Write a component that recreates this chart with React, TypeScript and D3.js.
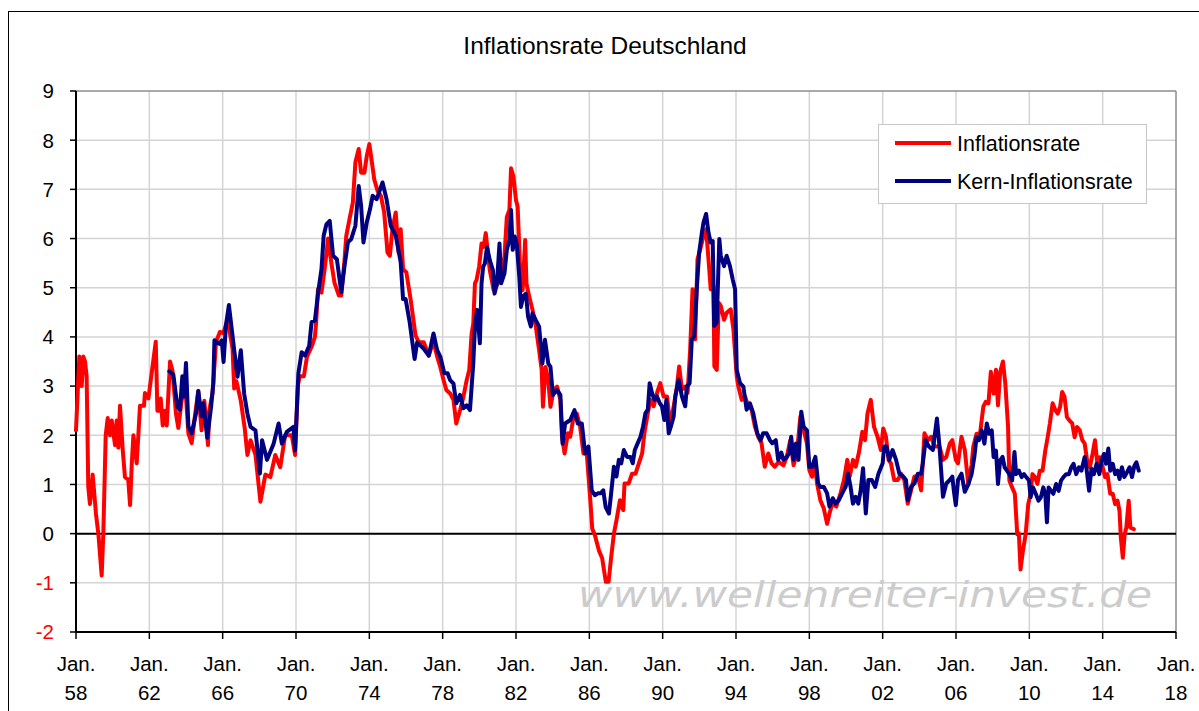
import React from 'react';
import * as d3 from 'd3';

const title = 'Inflationsrate Deutschland';
const seriesNames = ['Inflationsrate', 'Kern-Inflationsrate'];
const seriesColors = ['#ff0000', '#000080'];
const yTicks = [-2, -1, 0, 1, 2, 3, 4, 5, 6, 7, 8, 9];
const xTickYears = [1958, 1962, 1966, 1970, 1974, 1978, 1982, 1986, 1990, 1994, 1998, 2002, 2006, 2010, 2014, 2018];
const watermark = 'www.wellenreiter-invest.de';

const inflation: [number, number][] = [
  [1958.0, 2.1], [1958.18, 3.6], [1958.31, 3.0], [1958.4, 3.6], [1958.49, 3.5], [1958.58, 3.2], [1958.67, 0.95], [1958.76, 0.6],
  [1958.91, 1.2], [1959.09, 0.4], [1959.22, 0.0], [1959.4, -0.85], [1959.49, 0.0], [1959.62, 2.0], [1959.73, 2.35], [1959.85, 2.0],
  [1959.95, 2.3], [1960.13, 1.8], [1960.22, 2.3], [1960.31, 1.75], [1960.4, 2.6], [1960.55, 1.7], [1960.67, 1.15], [1960.85, 1.1],
  [1960.95, 0.58], [1961.04, 1.4], [1961.13, 2.0], [1961.31, 1.43], [1961.4, 2.0], [1961.49, 2.6], [1961.71, 2.6], [1961.76, 2.86],
  [1961.95, 2.75], [1962.07, 3.1], [1962.35, 3.9], [1962.44, 2.5], [1962.55, 2.5], [1962.62, 2.75], [1962.73, 2.2], [1962.85, 2.5],
  [1962.95, 2.2], [1963.04, 2.85], [1963.13, 3.5], [1963.27, 3.3], [1963.45, 2.45], [1963.58, 2.15], [1963.76, 2.7], [1963.95, 3.06],
  [1964.13, 2.04], [1964.31, 1.84], [1964.49, 2.4], [1964.67, 2.9], [1964.85, 2.1], [1965.0, 2.7], [1965.2, 1.8], [1965.27, 2.5],
  [1965.45, 2.86], [1965.58, 3.57], [1965.64, 3.9], [1965.85, 4.1], [1966.04, 4.08], [1966.27, 4.35], [1966.49, 3.87], [1966.54, 3.75],
  [1966.63, 2.95], [1966.75, 3.1], [1966.99, 2.7], [1967.2, 2.15], [1967.35, 1.6], [1967.52, 1.9], [1967.79, 1.6], [1968.06, 0.65],
  [1968.33, 1.2], [1968.6, 1.15], [1968.87, 1.6], [1969.14, 1.35], [1969.41, 2.0], [1969.77, 2.0], [1969.95, 1.6], [1970.1, 3.0],
  [1970.2, 3.2], [1970.43, 3.2], [1970.6, 3.6], [1970.85, 3.8], [1971.03, 4.0], [1971.1, 4.3], [1971.2, 4.97], [1971.39, 4.9],
  [1971.57, 5.4], [1971.75, 6.0], [1971.93, 5.5], [1972.1, 5.1], [1972.34, 4.84], [1972.47, 4.84], [1972.65, 5.58], [1972.74, 6.05],
  [1972.92, 6.4], [1973.1, 6.73], [1973.24, 7.55], [1973.42, 7.82], [1973.55, 7.34], [1973.73, 7.34], [1973.86, 7.68], [1974.0, 7.92],
  [1974.14, 7.55], [1974.27, 7.2], [1974.45, 6.97], [1974.63, 6.87], [1974.81, 6.53], [1974.99, 5.72], [1975.12, 5.65], [1975.26, 6.19],
  [1975.44, 6.53], [1975.59, 5.72], [1975.71, 6.19], [1975.84, 5.38], [1976.02, 5.31], [1976.25, 4.77], [1976.52, 4.03], [1976.7, 3.89],
  [1976.97, 3.89], [1977.24, 3.62], [1977.34, 3.73], [1977.5, 3.9], [1977.7, 3.6], [1977.87, 3.39], [1978.05, 3.12], [1978.2, 2.92],
  [1978.41, 2.85], [1978.59, 2.72], [1978.74, 2.24], [1978.95, 2.51], [1979.13, 2.78], [1979.31, 3.12], [1979.45, 3.33], [1979.58, 4.07],
  [1979.67, 4.27], [1979.76, 5.09], [1979.85, 5.16], [1979.99, 5.43], [1980.12, 5.9], [1980.24, 5.83], [1980.35, 6.11], [1980.57, 5.36],
  [1980.78, 4.95], [1980.92, 5.02], [1981.14, 5.22], [1981.37, 5.63], [1981.5, 6.44], [1981.64, 6.58], [1981.73, 7.43], [1981.86, 7.26],
  [1982.0, 6.78], [1982.09, 6.65], [1982.22, 5.43], [1982.36, 4.95], [1982.5, 5.97], [1982.57, 5.09], [1982.72, 4.82], [1982.9, 4.55],
  [1983.08, 4.21], [1983.26, 3.73], [1983.4, 3.33], [1983.47, 2.58], [1983.61, 3.39], [1983.76, 3.12], [1983.88, 2.58], [1984.06, 2.92],
  [1984.24, 2.99], [1984.42, 2.72], [1984.51, 1.97], [1984.65, 1.63], [1984.83, 2.04], [1984.96, 1.97], [1985.14, 2.38], [1985.32, 2.44],
  [1985.5, 2.17], [1985.68, 1.63], [1985.86, 1.63], [1986.04, 0.75], [1986.16, 0.1], [1986.3, -0.03], [1986.52, -0.34], [1986.7, -0.5],
  [1986.9, -0.98], [1987.05, -0.98], [1987.19, -0.48], [1987.34, 0.0], [1987.48, 0.27], [1987.67, 0.68], [1987.85, 0.48], [1987.92, 1.02],
  [1988.15, 1.02], [1988.33, 1.22], [1988.52, 1.22], [1988.7, 1.43], [1988.88, 1.63], [1989.0, 2.04], [1989.19, 2.45], [1989.33, 2.72],
  [1989.51, 2.59], [1989.69, 2.86], [1989.87, 3.06], [1990.05, 2.79], [1990.24, 2.79], [1990.42, 2.18], [1990.6, 2.59], [1990.78, 2.99],
  [1990.9, 3.4], [1991.05, 2.93], [1991.23, 2.99], [1991.36, 2.86], [1991.5, 3.74], [1991.63, 4.97], [1991.77, 3.95], [1991.9, 5.58],
  [1992.05, 5.78], [1992.23, 6.05], [1992.37, 6.19], [1992.5, 5.58], [1992.62, 4.97], [1992.77, 5.03], [1992.82, 3.4], [1992.95, 3.33],
  [1993.06, 4.69], [1993.17, 4.63], [1993.35, 4.35], [1993.49, 4.49], [1993.71, 4.56], [1993.86, 4.15], [1994.04, 3.2], [1994.13, 2.99],
  [1994.31, 2.72], [1994.49, 2.79], [1994.67, 2.59], [1994.85, 2.52], [1995.03, 2.18], [1995.21, 1.97], [1995.39, 1.84], [1995.57, 1.36],
  [1995.76, 1.63], [1995.94, 1.43], [1996.12, 1.36], [1996.32, 1.46], [1996.59, 1.39], [1996.77, 1.56], [1996.96, 1.9], [1997.14, 1.39],
  [1997.32, 1.63], [1997.51, 2.38], [1997.69, 2.1], [1997.87, 1.83], [1998.0, 1.29], [1998.15, 1.16], [1998.29, 1.5], [1998.42, 1.02],
  [1998.6, 0.68], [1998.79, 0.51], [1998.97, 0.2], [1999.1, 0.41], [1999.25, 0.61], [1999.47, 0.55], [1999.7, 0.82], [1999.89, 1.09],
  [2000.07, 1.5], [2000.2, 1.16], [2000.38, 1.5], [2000.53, 1.36], [2000.71, 1.66], [2000.89, 2.07], [2001.04, 1.9], [2001.17, 2.44],
  [2001.35, 2.72], [2001.53, 2.17], [2001.72, 1.97], [2001.9, 1.7], [2002.03, 2.14], [2002.18, 1.97], [2002.32, 1.5], [2002.45, 1.43],
  [2002.63, 1.09], [2002.82, 1.09], [2003.0, 1.22], [2003.18, 1.09], [2003.37, 0.61], [2003.55, 0.88], [2003.73, 1.16], [2003.92, 1.16],
  [2004.1, 0.88], [2004.28, 2.04], [2004.47, 1.9], [2004.65, 1.97], [2004.83, 1.77], [2005.1, 1.77], [2005.29, 1.5], [2005.47, 1.56],
  [2005.66, 1.83], [2005.8, 1.9], [2005.99, 1.5], [2006.11, 1.43], [2006.3, 1.97], [2006.48, 1.7], [2006.67, 1.0], [2006.85, 1.4],
  [2006.94, 1.76], [2007.12, 2.03], [2007.31, 2.03], [2007.49, 2.58], [2007.62, 2.68], [2007.77, 2.65], [2007.9, 3.29], [2008.05, 2.85],
  [2008.18, 3.33], [2008.29, 2.61], [2008.41, 3.29], [2008.56, 3.5], [2008.69, 3.05], [2008.84, 2.17], [2008.91, 1.08], [2009.06, 0.94],
  [2009.21, 0.81], [2009.34, -0.01], [2009.43, 0.0], [2009.52, -0.73], [2009.65, -0.35], [2009.8, -0.01], [2009.94, 0.6], [2010.07, 0.81],
  [2010.17, 1.21], [2010.31, 1.15], [2010.44, 1.01], [2010.57, 1.28], [2010.72, 1.28], [2010.87, 1.69], [2011.0, 1.96], [2011.12, 2.24],
  [2011.27, 2.65], [2011.42, 2.51], [2011.55, 2.44], [2011.68, 2.58], [2011.79, 2.88], [2011.92, 2.78], [2012.05, 2.37], [2012.19, 2.3],
  [2012.34, 2.24], [2012.47, 1.96], [2012.6, 2.17], [2012.75, 2.1], [2012.89, 1.9], [2013.02, 1.83], [2013.15, 1.49], [2013.3, 1.35],
  [2013.45, 1.62], [2013.58, 1.9], [2013.71, 1.42], [2013.85, 1.55], [2014.0, 1.35], [2014.13, 1.15], [2014.26, 1.21], [2014.41, 0.81],
  [2014.55, 0.81], [2014.68, 0.6], [2014.81, 0.67], [2014.92, 0.46], [2014.99, -0.08], [2015.1, -0.49], [2015.2, -0.01], [2015.29, 0.12],
  [2015.42, 0.67], [2015.51, 0.12], [2015.7, 0.09],
];

const coreInflation: [number, number][] = [
  [1963.09, 3.3], [1963.31, 3.23], [1963.53, 2.58], [1963.67, 2.52], [1963.8, 3.2], [1963.89, 2.79], [1964.0, 3.47], [1964.13, 2.18],
  [1964.31, 2.04], [1964.55, 2.45], [1964.67, 2.9], [1964.85, 2.38], [1964.95, 2.65], [1965.16, 1.95], [1965.37, 2.58], [1965.49, 3.06],
  [1965.55, 3.93], [1965.82, 3.86], [1965.95, 3.93], [1966.05, 3.49], [1966.18, 4.24], [1966.34, 4.65], [1966.63, 3.73], [1966.81, 3.19],
  [1966.99, 3.73], [1967.17, 2.85], [1967.35, 2.44], [1967.52, 2.17], [1967.79, 2.1], [1968.03, 1.22], [1968.15, 1.9], [1968.42, 1.5],
  [1968.78, 1.83], [1969.05, 2.24], [1969.23, 1.83], [1969.5, 2.07], [1969.86, 2.17], [1969.95, 1.69], [1970.13, 3.26], [1970.31, 3.69],
  [1970.49, 3.62], [1970.72, 3.82], [1970.85, 4.3], [1971.03, 4.33], [1971.21, 4.91], [1971.39, 5.38], [1971.51, 6.06], [1971.66, 6.29],
  [1971.84, 6.36], [1972.02, 5.65], [1972.23, 5.58], [1972.47, 4.91], [1972.65, 5.45], [1972.83, 5.92], [1973.01, 5.99], [1973.24, 6.26],
  [1973.42, 7.07], [1973.55, 6.67], [1973.68, 5.92], [1973.86, 6.33], [1974.04, 6.6], [1974.18, 6.87], [1974.4, 6.8], [1974.72, 7.14],
  [1974.94, 6.8], [1975.17, 6.26], [1975.44, 6.06], [1975.71, 5.52], [1975.84, 4.77], [1975.98, 4.77], [1976.2, 4.3], [1976.47, 3.55],
  [1976.61, 3.89], [1976.97, 3.76], [1977.24, 3.62], [1977.5, 4.07], [1977.7, 3.73], [1977.87, 3.6], [1978.09, 3.26], [1978.27, 3.26],
  [1978.41, 3.12], [1978.59, 3.05], [1978.74, 2.65], [1978.95, 2.82], [1979.13, 2.55], [1979.31, 2.61], [1979.49, 2.51], [1979.67, 3.46],
  [1979.76, 4.21], [1979.88, 4.55], [1980.03, 3.87], [1980.12, 5.09], [1980.21, 5.43], [1980.3, 5.49], [1980.42, 5.83], [1980.57, 5.56],
  [1980.74, 5.36], [1980.83, 4.88], [1980.96, 5.09], [1981.1, 5.9], [1981.19, 5.09], [1981.37, 5.29], [1981.5, 5.77], [1981.64, 5.97],
  [1981.73, 6.58], [1981.82, 5.77], [1981.93, 6.04], [1982.04, 5.9], [1982.18, 5.22], [1982.27, 4.61], [1982.39, 4.82], [1982.54, 4.88],
  [1982.66, 4.41], [1982.81, 4.21], [1982.9, 4.48], [1983.08, 4.34], [1983.26, 4.21], [1983.44, 3.46], [1983.58, 3.94], [1983.76, 3.46],
  [1983.88, 3.39], [1984.01, 2.82], [1984.24, 2.92], [1984.42, 2.82], [1984.54, 1.83], [1984.68, 2.24], [1984.96, 2.31], [1985.19, 2.51],
  [1985.37, 2.24], [1985.59, 2.24], [1985.77, 1.63], [1985.95, 1.77], [1986.13, 0.88], [1986.3, 0.78], [1986.48, 0.82], [1986.62, 0.82],
  [1986.76, 0.88], [1986.89, 0.54], [1987.07, 0.41], [1987.19, 0.82], [1987.34, 1.36], [1987.48, 1.16], [1987.61, 1.5], [1987.74, 1.43],
  [1987.88, 1.7], [1988.06, 1.56], [1988.24, 1.56], [1988.37, 1.43], [1988.48, 1.7], [1988.64, 1.84], [1988.79, 1.97], [1988.93, 2.18],
  [1989.06, 2.45], [1989.19, 2.52], [1989.29, 3.06], [1989.42, 2.86], [1989.55, 2.72], [1989.69, 2.79], [1989.84, 2.65], [1989.96, 2.59],
  [1990.09, 2.31], [1990.2, 2.72], [1990.33, 2.04], [1990.45, 2.18], [1990.6, 2.38], [1990.69, 2.79], [1990.87, 3.13], [1991.05, 2.79],
  [1991.23, 2.59], [1991.32, 2.99], [1991.47, 3.06], [1991.59, 3.95], [1991.72, 4.01], [1991.86, 4.97], [1991.99, 5.71], [1992.14, 6.12],
  [1992.23, 6.33], [1992.37, 6.5], [1992.5, 6.12], [1992.62, 5.92], [1992.73, 5.95], [1992.81, 4.22], [1992.95, 4.29], [1993.09, 5.99],
  [1993.17, 5.65], [1993.35, 5.44], [1993.49, 5.65], [1993.67, 5.44], [1993.82, 5.17], [1993.95, 4.97], [1994.04, 3.33], [1994.22, 3.06],
  [1994.4, 2.99], [1994.58, 2.52], [1994.76, 2.65], [1994.94, 2.45], [1995.16, 2.04], [1995.34, 1.9], [1995.48, 2.04], [1995.67, 2.04],
  [1995.85, 1.9], [1995.98, 1.84], [1996.17, 1.9], [1996.3, 1.5], [1996.47, 1.65], [1996.59, 1.5], [1996.77, 1.56], [1996.9, 1.63],
  [1997.01, 1.97], [1997.14, 1.5], [1997.27, 1.83], [1997.41, 1.5], [1997.56, 2.48], [1997.69, 2.17], [1997.87, 2.1], [1998.0, 1.36],
  [1998.15, 1.36], [1998.33, 1.56], [1998.48, 1.02], [1998.6, 0.95], [1998.79, 0.95], [1998.97, 0.82], [1999.1, 0.55], [1999.28, 0.72],
  [1999.43, 0.61], [1999.61, 0.68], [1999.79, 0.82], [1999.98, 0.95], [2000.11, 1.22], [2000.25, 0.95], [2000.38, 0.61], [2000.53, 0.75],
  [2000.67, 0.61], [2000.8, 0.88], [2000.93, 1.33], [2001.08, 0.41], [2001.22, 1.09], [2001.41, 1.09], [2001.59, 0.95], [2001.77, 1.22],
  [2002.0, 1.43], [2002.08, 1.77], [2002.21, 1.77], [2002.36, 1.5], [2002.54, 1.7], [2002.73, 1.5], [2002.91, 1.22], [2003.13, 1.16],
  [2003.27, 1.09], [2003.37, 0.68], [2003.55, 0.95], [2003.73, 1.02], [2003.92, 1.22], [2004.1, 1.22], [2004.19, 1.43], [2004.34, 1.9],
  [2004.52, 1.77], [2004.74, 1.7], [2004.83, 1.97], [2004.96, 2.34], [2005.1, 1.77], [2005.29, 0.75], [2005.47, 1.02], [2005.66, 1.09],
  [2005.8, 1.16], [2005.88, 0.88], [2005.99, 0.58], [2006.11, 1.09], [2006.3, 1.22], [2006.48, 0.85], [2006.67, 1.0], [2006.85, 1.21],
  [2007.0, 1.56], [2007.12, 1.96], [2007.25, 1.9], [2007.4, 2.1], [2007.55, 1.83], [2007.68, 2.24], [2007.81, 2.03], [2007.95, 2.1],
  [2008.05, 1.56], [2008.18, 1.69], [2008.29, 1.01], [2008.41, 1.49], [2008.54, 1.56], [2008.65, 1.35], [2008.78, 1.28], [2008.91, 1.21],
  [2009.06, 1.08], [2009.19, 1.66], [2009.28, 1.21], [2009.43, 1.28], [2009.58, 1.15], [2009.71, 1.21], [2009.83, 1.15], [2009.98, 1.08],
  [2010.07, 0.74], [2010.2, 0.94], [2010.35, 0.81], [2010.5, 0.67], [2010.63, 0.74], [2010.76, 0.94], [2010.87, 0.81], [2010.96, 0.23],
  [2011.05, 0.94], [2011.18, 0.87], [2011.31, 0.81], [2011.46, 1.01], [2011.6, 0.87], [2011.73, 1.08], [2011.86, 1.15], [2012.01, 1.21],
  [2012.16, 1.21], [2012.29, 1.35], [2012.41, 1.42], [2012.56, 1.21], [2012.71, 1.35], [2012.84, 1.28], [2013.02, 1.56], [2013.11, 1.35],
  [2013.26, 0.87], [2013.39, 1.32], [2013.52, 1.21], [2013.67, 1.42], [2013.82, 1.21], [2013.94, 1.49], [2014.07, 1.62], [2014.18, 1.42],
  [2014.31, 1.73], [2014.41, 1.28], [2014.55, 1.42], [2014.68, 1.21], [2014.81, 1.28], [2014.92, 1.11], [2015.05, 1.35], [2015.18, 1.15],
  [2015.33, 1.25], [2015.47, 1.35], [2015.6, 1.15], [2015.73, 1.38], [2015.84, 1.45], [2015.97, 1.28],
];

const font = '"Liberation Sans", Arial, sans-serif';

export default function App() {
  const width = 1199, height = 711;
  const left = 76, right = 1176, top = 91, bottom = 632;

  const x = d3.scaleLinear().domain([1958, 2018]).range([left, right]);
  const y = d3.scaleLinear().domain([-2, 9]).range([bottom, top]);

  const line = d3.line<[number, number]>()
    .x(d => x(d[0]))
    .y(d => y(d[1]));

  const legendX = 878, legendY = 124;

  return (
    <svg width={width} height={height} style={{ position: 'absolute', left: 0, top: 0, background: '#fff' }}
      fontFamily={font}>
      {/* outer frame */}
      <rect x={8.5} y={11.5} width={1300} height={800} fill="#fff" stroke="#000" strokeWidth={1} />

      <text x={605} y={54} textAnchor="middle" fontSize={24.5} fill="#000">{title}</text>

      {/* grid */}
      <g stroke="#d4d4d4" strokeWidth={1.5}>
        {yTicks.filter(t => t !== -2 && t !== 9 && t !== 0).map(t =>
          <line key={'h' + t} x1={left} x2={right} y1={y(t)} y2={y(t)} />)}
        {xTickYears.slice(1, -1).map(yr =>
          <line key={'v' + yr} x1={x(yr)} x2={x(yr)} y1={top} y2={bottom} />)}
      </g>
      <line x1={left} x2={right} y1={top} y2={top} stroke="#8c8c8c" strokeWidth={1.5} />
      <line x1={right} x2={right} y1={top} y2={bottom} stroke="#8c8c8c" strokeWidth={1.5} />

      {/* watermark */}
      <text x={578} y={607} fontFamily='"DejaVu Sans", Verdana, sans-serif' fontStyle="italic" fontSize={35}
        fill="#cccccc" textLength={574} lengthAdjust="spacingAndGlyphs">{watermark}</text>

      <line x1={left} x2={right} y1={y(0)} y2={y(0)} stroke="#000" strokeWidth={2} />

      {/* axes */}
      <line x1={left} x2={left} y1={top} y2={bottom} stroke="#000" strokeWidth={2} />
      <line x1={left} x2={right} y1={bottom} y2={bottom} stroke="#000" strokeWidth={2} />
      {yTicks.map(t => (
        <g key={'yt' + t}>
          <line x1={left - 6} x2={left} y1={y(t)} y2={y(t)} stroke="#000" strokeWidth={1.5} />
          <text x={54} y={y(t)} dy="0.36em" textAnchor="end" fontSize={20.5} fill={t < 0 ? '#ff0000' : '#000'}>{t}</text>
        </g>
      ))}
      {xTickYears.map(yr => (
        <g key={'xt' + yr}>
          <line x1={x(yr)} x2={x(yr)} y1={bottom} y2={bottom + 7} stroke="#000" strokeWidth={1.5} />
          <text x={x(yr)} y={671} textAnchor="middle" fontSize={20.5} fill="#000">Jan.</text>
          <text x={x(yr)} y={700} textAnchor="middle" fontSize={20.5} fill="#000">{String(yr % 100).padStart(2, '0')}</text>
        </g>
      ))}

      {/* series */}
      <path d={line(inflation) || ''} fill="none" stroke={seriesColors[0]} strokeWidth={4} strokeLinejoin="round" strokeLinecap="round" />
      <path d={line(coreInflation) || ''} fill="none" stroke={seriesColors[1]} strokeWidth={4} strokeLinejoin="round" strokeLinecap="round" />

      {/* legend */}
      <rect x={legendX + 0.5} y={legendY + 0.5} width={268} height={79} fill="#fff" stroke="#c8c8c8" strokeWidth={1} />
      {seriesNames.map((name, i) => (
        <g key={name}>
          <line x1={895} x2={951} y1={143 + i * 38} y2={143 + i * 38} stroke={seriesColors[i]} strokeWidth={4} />
          <text x={957} y={143 + i * 38} dy="0.36em" fontSize={21.5} fill="#000">{name}</text>
        </g>
      ))}
    </svg>
  );
}
